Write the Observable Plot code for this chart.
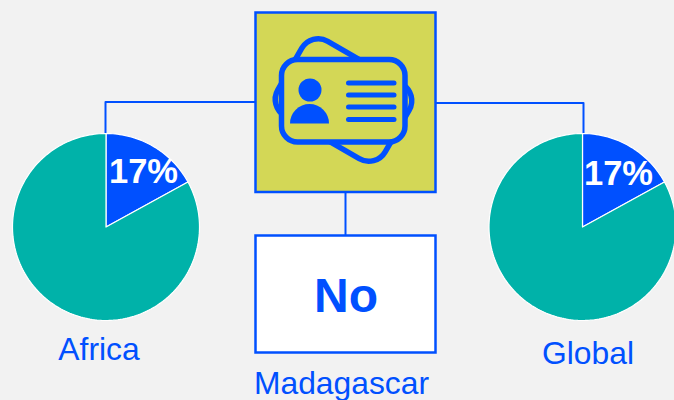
<!DOCTYPE html>
<html><head><meta charset="utf-8">
<script src="https://cdn.jsdelivr.net/npm/d3@7"></script>
<script src="https://cdn.jsdelivr.net/npm/@observablehq/plot@0.6"></script>
<style>html,body{margin:0;padding:0;background:#f2f2f2;overflow:hidden}svg{display:block}</style>
</head><body><div id="chart"></div>
<script>
const sliceNames = ["Yes", "No"];
const africaShares = [17, 83];
const globalShares = [17, 83];
const regionLabels = ["Africa", "Global"];
const centerLabel = "Madagascar";
const centerAnswer = "No";

const BLUE = "#0050ff", TEAL = "#00b2a9", OLIVE = "#d3d756", FONT = "Liberation Sans, Arial, sans-serif";
const R = 93.5, CY = 226.5;

function sliceRows(shares, cx, cy, r) {
  const arcs = d3.pie().sort(null)(shares);
  return arcs.map((a, i) => {
    const n = Math.max(2, Math.ceil((a.endAngle - a.startAngle) * 40));
    const pts = [{x: cx, y: cy}];
    for (let k = 0; k <= n; k++) {
      const t = a.startAngle + (a.endAngle - a.startAngle) * k / n;
      pts.push({x: cx + r * Math.sin(t), y: cy - r * Math.cos(t)});
    }
    pts.push({x: cx, y: cy});
    return {name: sliceNames[i], pts};
  });
}
const pieMarks = (shares, cx) => sliceRows(shares, cx, CY, R).map((s, i) =>
  Plot.line(s.pts, {x: "x", y: "y", fill: i === 0 ? BLUE : TEAL, stroke: "#ffffff", strokeWidth: 1.2, strokeLinejoin: "round"}));

function icon(index, {x, y}) {
  const g = d3.create("svg:g").attr("fill", "none").attr("stroke", BLUE).attr("stroke-width", 5.5);
  g.append("rect").attr("x", x(343.5) - 62).attr("y", y(100) - 43).attr("width", 124).attr("height", 86).attr("rx", 19)
    .attr("transform", `rotate(30 ${x(343.5)} ${y(100)})`);
  g.append("rect").attr("x", x(281.5)).attr("y", y(59.5)).attr("width", 123.5).attr("height", 82.5).attr("rx", 16).attr("fill", OLIVE);
  g.append("circle").attr("cx", x(310)).attr("cy", y(90)).attr("r", 11.5).attr("fill", BLUE).attr("stroke", "none");
  g.append("path").attr("d", `M${x(290)},${y(123.5)}A19.5,19.5 0 0 1 ${x(329)},${y(123.5)}Z`).attr("fill", BLUE).attr("stroke", "none");
  for (const ly of [83, 95, 107, 119.5])
    g.append("line").attr("x1", x(348.5)).attr("x2", x(394)).attr("y1", y(ly)).attr("y2", y(ly)).attr("stroke-width", 5).attr("stroke-linecap", "round");
  return g.node();
}

const connector = pts => Plot.line(pts, {x: "x", y: "y", stroke: BLUE, strokeWidth: 2});
const label = (text, x, y, size, fill, weight) => Plot.text([text], {x: () => x, y: () => y, text: d => d, fontSize: size, fill, fontWeight: weight || "normal", fontFamily: FONT});

const chart = Plot.plot({
  width: 674, height: 400, margin: 0,
  style: {background: "transparent", overflow: "hidden"},
  x: {domain: [0, 674], range: [0, 674], axis: null},
  y: {domain: [0, 400], range: [0, 400], axis: null},
  marks: [
    connector([{x: 105, y: 133}, {x: 105, y: 101.5}, {x: 255, y: 101.5}]),
    connector([{x: 583, y: 133}, {x: 583, y: 102.5}, {x: 436, y: 102.5}]),
    connector([{x: 345, y: 192}, {x: 345, y: 235}]),
    ...pieMarks(africaShares, 105.5),
    ...pieMarks(globalShares, 582),
    Plot.rect([0], {x1: () => 255.5, x2: () => 435.5, y1: () => 12.5, y2: () => 192, fill: OLIVE, stroke: BLUE, strokeWidth: 2.5}),
    Plot.rect([0], {x1: () => 255.5, x2: () => 435.5, y1: () => 235.5, y2: () => 352.5, fill: "#ffffff", stroke: BLUE, strokeWidth: 2.5}),
    icon,
    label(africaShares[0] + "%", 143, 171, 34.5, "#ffffff", "bold"),
    label(globalShares[0] + "%", 618, 173, 34.5, "#ffffff", "bold"),
    label(centerAnswer, 345.5, 296, 48, BLUE, "bold"),
    label(regionLabels[0], 98.5, 349, 31.8, BLUE),
    label(regionLabels[1], 587.5, 353, 31.8, BLUE),
    label(centerLabel, 341, 383, 31.8, BLUE)
  ]
});
document.getElementById("chart").append(chart);
</script></body></html>
